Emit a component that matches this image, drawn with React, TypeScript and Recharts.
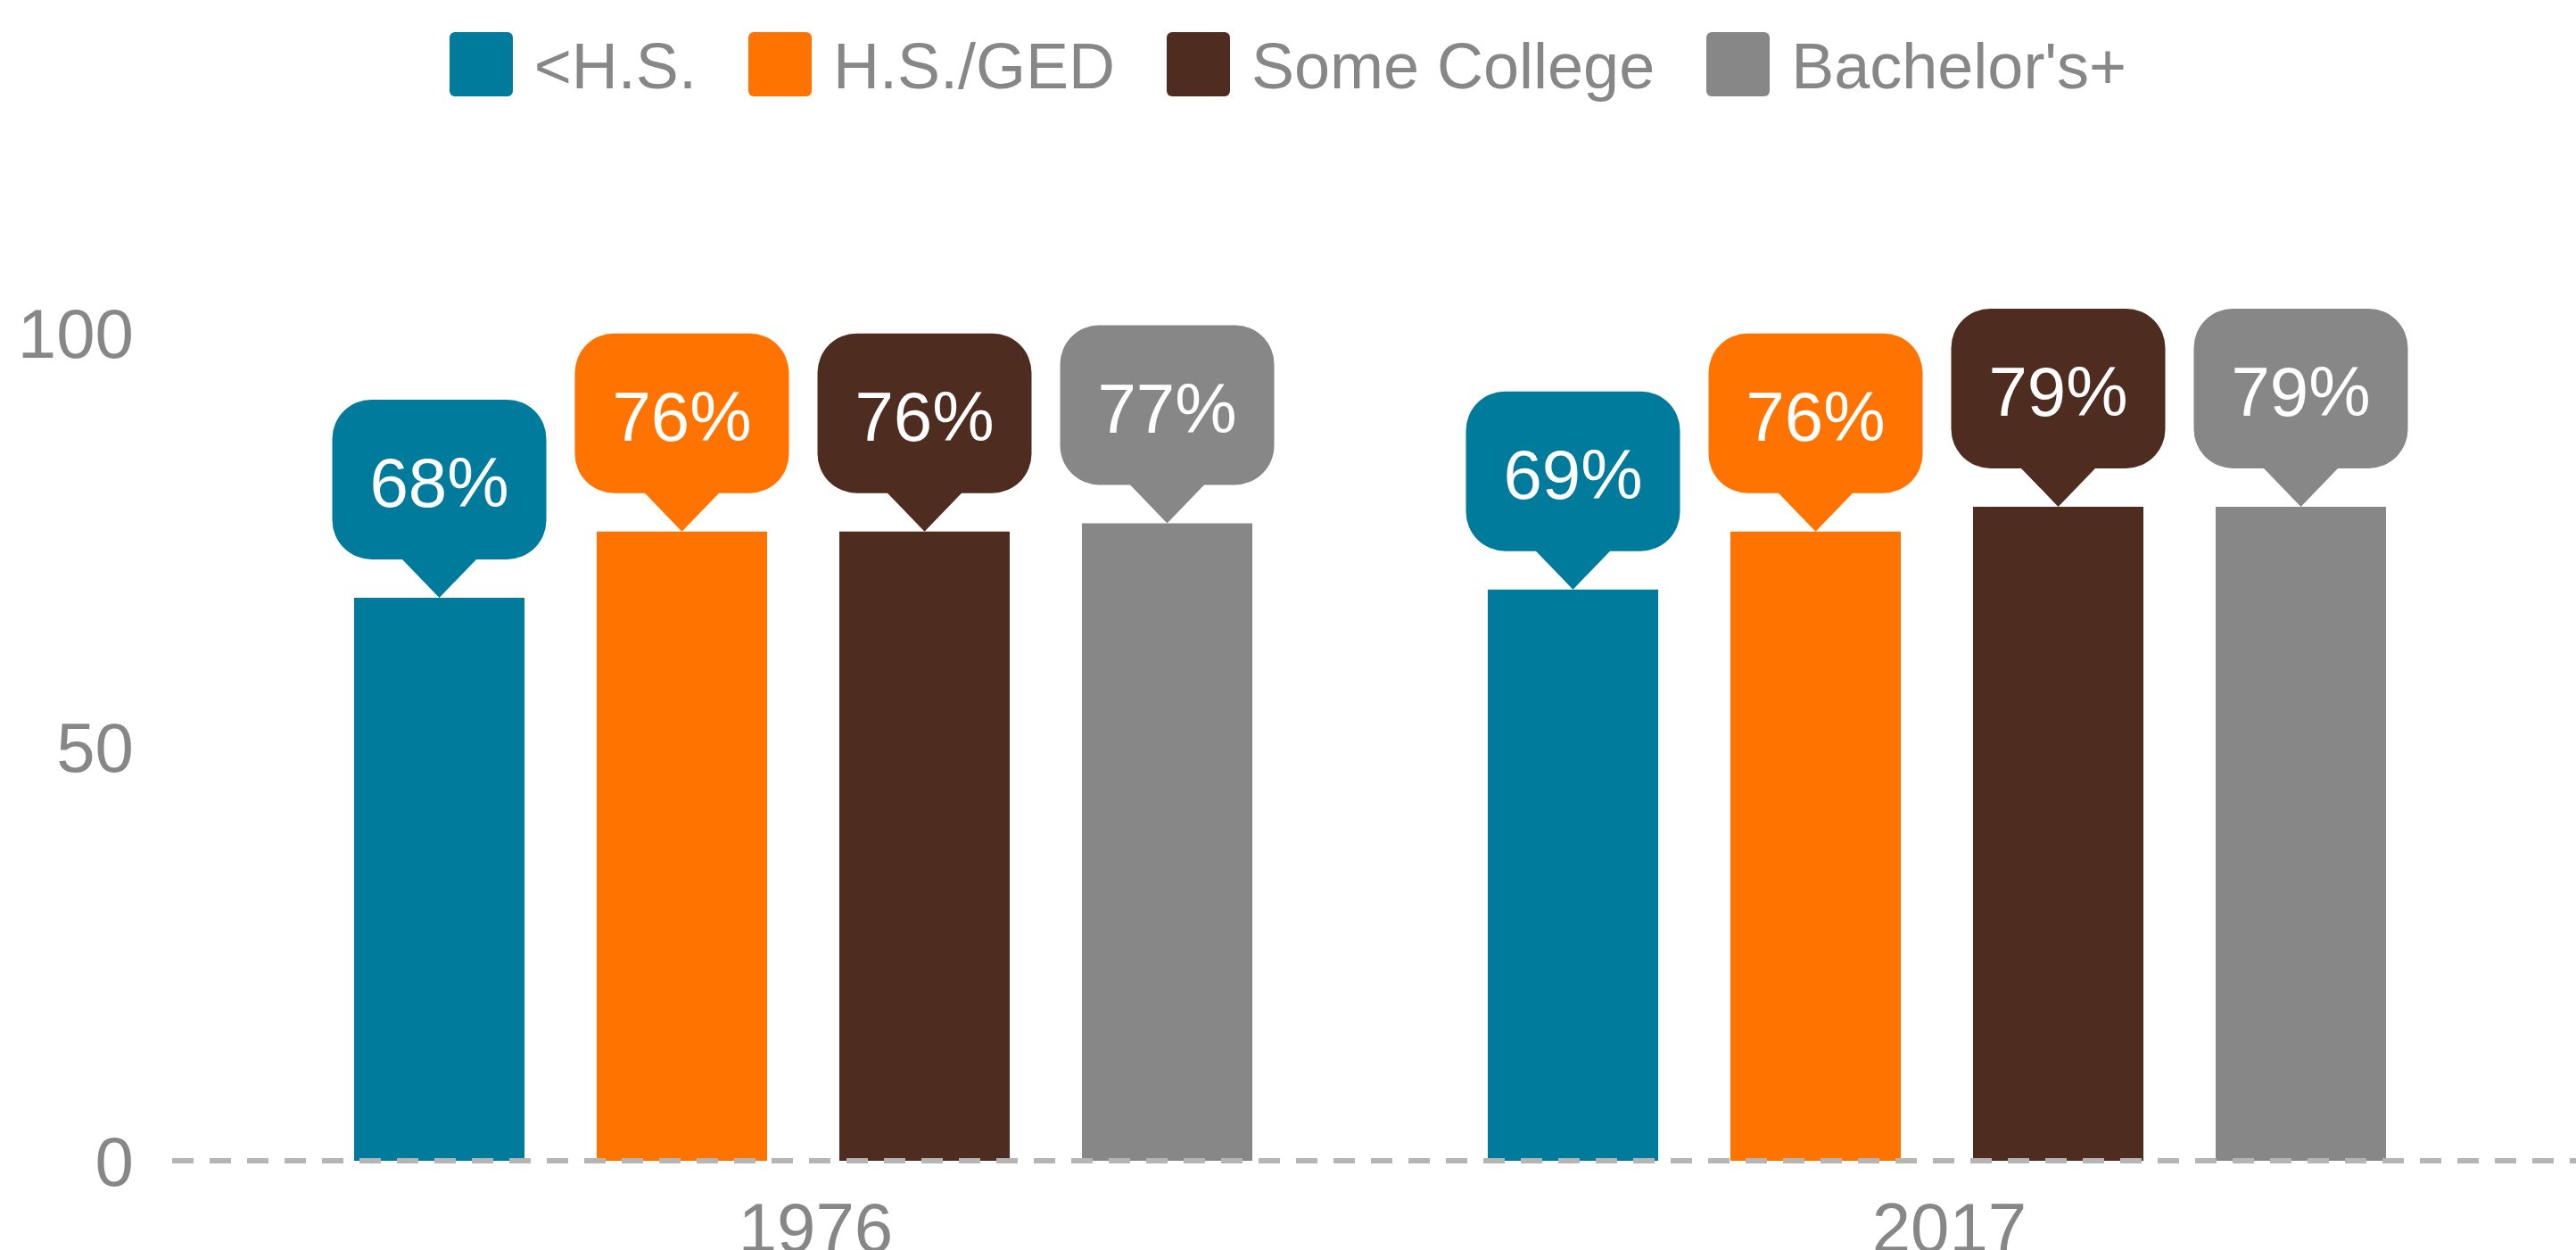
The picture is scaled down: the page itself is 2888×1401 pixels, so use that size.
import React from 'react'
import { BarChart, Bar, XAxis, YAxis, LabelList } from 'recharts'

// values (percent)
const years = ['1976', '2017']
const lessHS = [68, 69]
const hsGed = [76, 76]
const someCollege = [76, 79]
const bachelors = [77, 79]
const yTicks = [0, 50, 100]

const seriesNames = ['<H.S.', 'H.S./GED', 'Some College', "Bachelor's+"]
const seriesKeys = ['lessHS', 'hsGed', 'someCollege', 'bachelors']
const seriesColors = ['#007b9b', '#ff7400', '#4f2c20', '#878787']

const data = years.map((year, i) => ({
  year,
  lessHS: lessHS[i],
  hsGed: hsGed[i],
  someCollege: someCollege[i],
  bachelors: bachelors[i],
}))

const FONT = '"Liberation Sans", Arial, sans-serif'
const TEXT_GREY = '#878787'

// speech bubble sitting on top of each bar
function bubble(color: string) {
  return (props: any) => {
    const { x, y, width, value } = props
    const cx = x + width / 2
    const w = 240
    const h = 179
    const r = 44
    const tipH = 43
    const tipW = 83
    const bottom = y - tipH
    const top = bottom - h
    const left = cx - w / 2
    const right = cx + w / 2
    const d = [
      `M${left + r},${top}`,
      `H${right - r}`,
      `A${r},${r} 0 0 1 ${right},${top + r}`,
      `V${bottom - r}`,
      `A${r},${r} 0 0 1 ${right - r},${bottom}`,
      `H${cx + tipW / 2}`,
      `L${cx},${y}`,
      `L${cx - tipW / 2},${bottom}`,
      `H${left + r}`,
      `A${r},${r} 0 0 1 ${left},${bottom - r}`,
      `V${top + r}`,
      `A${r},${r} 0 0 1 ${left + r},${top}`,
      'Z',
    ].join(' ')
    return (
      <g>
        <path d={d} fill={color} />
        <text
          x={cx}
          y={top + h / 2 + 3}
          dy="0.355em"
          textAnchor="middle"
          fill="#ffffff"
          fontSize={78}
          fontFamily={FONT}
        >
          {`${value}%`}
        </text>
      </g>
    )
  }
}

function YearTick(props: any) {
  const { x, y, payload } = props
  return (
    <text x={x + 14} y={y} dy="0.71em" textAnchor="middle" fill={TEXT_GREY} fontSize={78} fontFamily={FONT}>
      {payload.value}
    </text>
  )
}

function LegendRow() {
  return (
    <div style={{
      position: 'absolute', top: 36, left: 0, width: 2888,
      display: 'flex', justifyContent: 'center', gap: 58,
      fontFamily: FONT,
    }}>
      {seriesNames.map((name, i) => (
        <div key={name} style={{ display: 'flex', alignItems: 'center' }}>
          <div style={{ width: 71, height: 72, borderRadius: 6, background: seriesColors[i] }} />
          <span style={{ marginLeft: 24, fontSize: 72, lineHeight: '72px', color: TEXT_GREY, position: 'relative', top: 2 }}>
            {name}
          </span>
        </div>
      ))}
    </div>
  )
}

export default function App() {
  return (
    <div style={{ position: 'absolute', left: 0, top: 0, width: 2888, height: 1401, background: '#fff' }}>
      <LegendRow />
      <BarChart
        width={2888}
        height={1401}
        data={data}
        margin={{ top: 373, right: 0, bottom: 0, left: 0 }}
        barSize={191}
        barGap={81}
      >
        <XAxis
          dataKey="year"
          height={100}
          padding={{ left: 72, right: 81 }}
          axisLine={{ stroke: '#b5b5b5', strokeWidth: 6, strokeDasharray: '24 18' }}
          tickLine={false}
          tickSize={0}
          tickMargin={47}
          tick={<YearTick />}
        />
        <YAxis
          width={193}
          domain={[0, 100]}
          ticks={yTicks}
          axisLine={false}
          tickLine={false}
          tickSize={0}
          tickMargin={43}
          tick={{ fill: TEXT_GREY, fontSize: 78, fontFamily: FONT }}
        />
        {seriesKeys.map((key, i) => (
          <Bar key={key} dataKey={key} name={seriesNames[i]} fill={seriesColors[i]} isAnimationActive={false}>
            <LabelList dataKey={key} content={bubble(seriesColors[i])} />
          </Bar>
        ))}
      </BarChart>
    </div>
  )
}
